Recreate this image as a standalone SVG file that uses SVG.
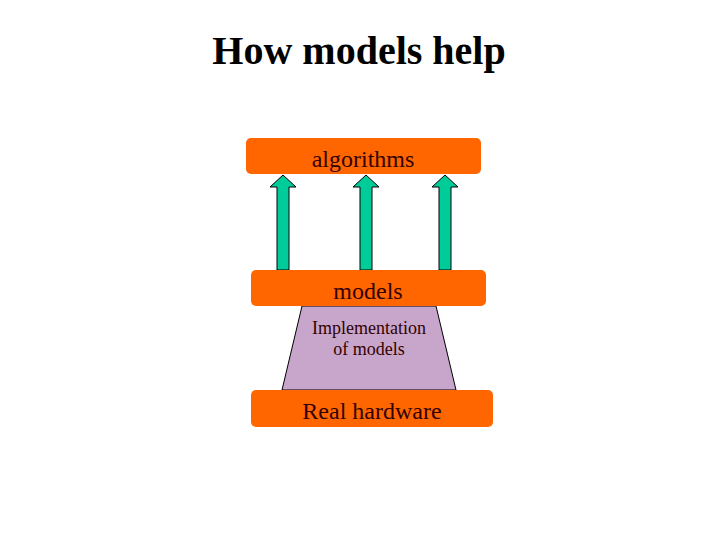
<svg xmlns="http://www.w3.org/2000/svg" width="720" height="540" viewBox="0 0 720 540">
<style>
.bar{fill:#FF6600;}
.lbl{font-family:"Liberation Serif","Times New Roman",serif;fill:#330000;text-anchor:middle;}
.arr{fill:#00CC99;stroke:#000;stroke-width:1;}
</style>
<rect width="720" height="540" fill="#fff"/>
<text x="359" y="64" font-family="Liberation Serif,serif" font-weight="bold" font-size="40" text-anchor="middle" fill="#000">How models help</text>
<g id="connectors">
<polygon class="arr" points="277,270 277,187 270,187 283,175 296,187 289,187 289,270"/>
<polygon class="arr" points="360,270 360,187 353,187 366,175 379,187 372,187 372,270"/>
<polygon class="arr" points="439,270 439,187 432,187 445,175 458,187 451,187 451,270"/>
</g>
<g id="algorithms">
<rect class="bar" x="246" y="138" width="235" height="36" rx="5"/>
<text class="lbl" x="363" y="167" font-size="24">algorithms</text>
</g>
<g id="implementation">
<polygon points="302,306 436,306 456,390 282,390" fill="#C8A6CC" stroke="#000" stroke-width="1"/>
<text class="lbl" x="369" y="334" font-size="18">Implementation</text>
<text class="lbl" x="369" y="355" font-size="18">of models</text>
</g>
<g id="models">
<rect class="bar" x="251" y="270" width="235" height="36" rx="5"/>
<text class="lbl" x="368" y="299" font-size="24">models</text>
</g>
<g id="hardware">
<rect class="bar" x="251" y="390" width="242" height="37" rx="5"/>
<text class="lbl" x="372" y="419" font-size="24">Real hardware</text>
</g>
</svg>
